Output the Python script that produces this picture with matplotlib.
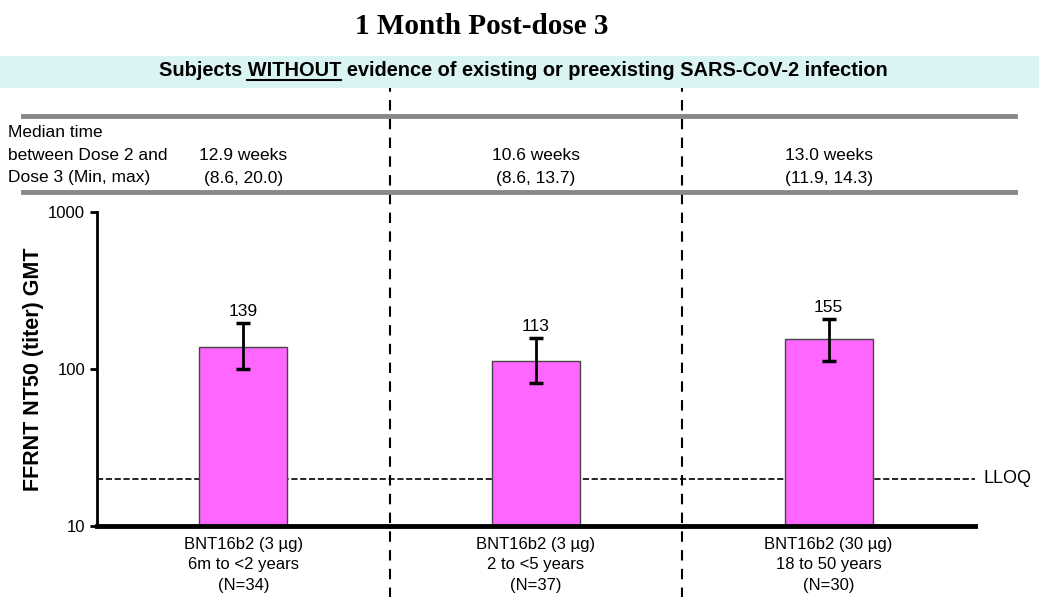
import matplotlib
matplotlib.use("Agg")
import matplotlib.pyplot as plt
from matplotlib.lines import Line2D
from matplotlib.patches import Rectangle

# ---------------------------------------------------------------------------
# Data
# ---------------------------------------------------------------------------
groups = ["BNT16b2 (3 \u00b5g)\n6m to <2 years\n(N=34)",
          "BNT16b2 (3 \u00b5g)\n2 to <5 years\n(N=37)",
          "BNT16b2 (30 \u00b5g)\n18 to 50 years\n(N=30)"]
gmt = [139, 113, 155]
ci_low = [100, 81, 112]
ci_high = [196, 157, 208]
median_weeks = ["12.9 weeks\n(8.6, 20.0)",
                "10.6 weeks\n(8.6, 13.7)",
                "13.0 weeks\n(11.9, 14.3)"]
lloq = 20

W, H = 1039, 597
SANS = ["Liberation Sans", "DejaVu Sans"]

fig = plt.figure(figsize=(W / 100, H / 100), dpi=100)
ax = fig.add_axes([97 / W, 1 - 526 / H, 878 / W, 314 / H])

x = list(range(len(gmt)))
yerr = [[g - lo for g, lo in zip(gmt, ci_low)],
        [hi - g for g, hi in zip(gmt, ci_high)]]
ax.bar(x, gmt, width=0.30, color="#ff66ff", edgecolor="#444444",
       linewidth=1, zorder=2)
ax.errorbar(x, gmt, yerr=yerr, fmt="none", ecolor="black",
            elinewidth=2, capsize=5, capthick=2.5, zorder=3)
for xi, g, hi in zip(x, gmt, ci_high):
    ax.text(xi, hi * 1.06, str(g), ha="center", va="bottom",
            fontsize=12.5, family=SANS)

ax.set_yscale("log")
ax.set_ylim(10, 1000)
ax.set_xlim(-0.5, 2.5)
ax.set_yticks([10, 100, 1000])
ax.set_yticklabels(["10", "100", "1000"], family=SANS, fontsize=12)
ax.minorticks_off()
ax.tick_params(axis="y", direction="out", length=5, width=2)
ax.set_xticks([])

ax.axhline(lloq, color="black", linestyle="--", linewidth=1.2, zorder=1)
ax.text(2.53, lloq, "LLOQ", ha="left", va="center", fontsize=13,
        family=SANS, transform=ax.transData, clip_on=False)

for s in ["top", "right"]:
    ax.spines[s].set_visible(False)
ax.spines["left"].set_linewidth(2)
ax.spines["bottom"].set_linewidth(3.5)

ax.set_ylabel("FFRNT NT50 (titer) GMT", fontsize=15.5,
              fontweight="bold", family=SANS)
ax.yaxis.set_label_coords(-53 / 878, 0.5)

for xi, lab in zip(x, groups):
    ax.text(xi, -0.035, lab, ha="center", va="top", fontsize=12,
            family=SANS, linespacing=1.45,
            transform=ax.get_xaxis_transform())

# vertical dashed separators through header and plot
for xv in [0.5, 1.5]:
    ax.axvline(xv, ymin=-0.23, ymax=(526 - 88) / 314, color="black",
               linestyle=(0, (5, 4)), linewidth=1.5, clip_on=False)

# header
fig.add_artist(Rectangle((0, 1 - 88 / H), 1, 32 / H, transform=fig.transFigure,
                         facecolor="#daf3f3", edgecolor="none", zorder=0))
for yy in [116, 192]:
    fig.add_artist(Line2D([23 / W, 1015 / W], [1 - yy / H, 1 - yy / H],
                          transform=fig.transFigure, color="#888888",
                          linewidth=3.5))

fig.text(482 / W, 1 - 27 / H, "1 Month Post-dose 3", ha="center",
         va="center", fontsize=21, fontweight="bold",
         family=["Liberation Serif", "DejaVu Serif"])

pre, und, post = "Subjects ", "WITHOUT", " evidence of existing or preexisting SARS-CoV-2 infection"
sub = fig.text(523 / W, 1 - 71 / H, pre + und + post, ha="center",
               va="center", fontsize=14.4, fontweight="bold", family=SANS)
fig.canvas.draw()
r = fig.canvas.get_renderer()
bb = sub.get_window_extent(r)
tmp = fig.text(0, 0, pre, fontsize=14.4, fontweight="bold", family=SANS)
w_pre = tmp.get_window_extent(r).width
tmp.set_text(pre + und)
w_und = tmp.get_window_extent(r).width
tmp.remove()
y_ul = bb.y0 + 1
fig.add_artist(Line2D([(bb.x0 + w_pre) / W, (bb.x0 + w_und) / W],
                      [y_ul / H, y_ul / H], transform=fig.transFigure,
                      color="black", linewidth=1.5))

fig.text(8 / W, 1 - 155 / H, "Median time\nbetween Dose 2 and\nDose 3 (Min, max)",
         ha="left", va="center", fontsize=12.5, family=SANS, linespacing=1.6)
for xi, m in zip(x, median_weeks):
    xd = ax.transData.transform((xi, 10))[0]
    fig.text(xd / W, 1 - 167 / H, m, ha="center", va="center", fontsize=12.5,
             family=SANS, linespacing=1.6)

fig.savefig("out.png", dpi=100)
